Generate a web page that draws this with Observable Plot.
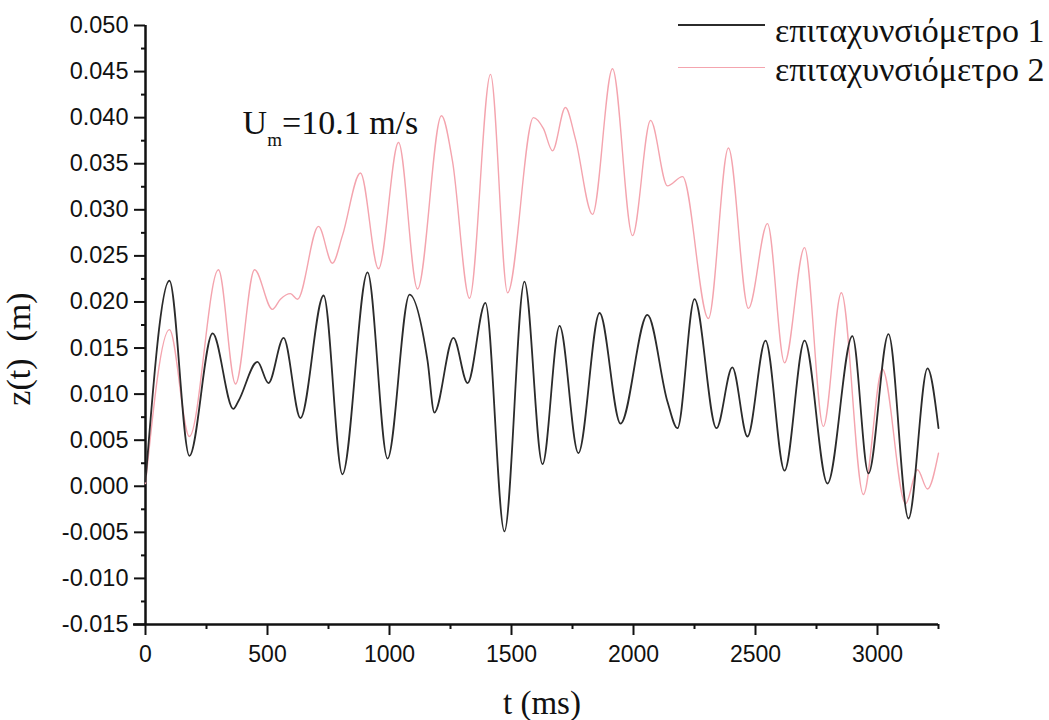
<!DOCTYPE html>
<html>
<head>
<meta charset="utf-8">
<script src="https://cdn.jsdelivr.net/npm/d3@7"></script>
<script src="https://cdn.jsdelivr.net/npm/@observablehq/plot@0.6"></script>
<style>
  html, body { margin: 0; padding: 0; background: #ffffff; }
  #wrap { position: relative; width: 1049px; height: 720px; overflow: hidden; }
  .legend { position: absolute; left: 0; top: 0; width: 1049px; height: 100px;
    font-family: "Liberation Serif", "Times New Roman", serif; font-size: 34px; line-height: 34px; color: #111; }
  .legend .label { position: absolute; left: 775px; white-space: nowrap; }
  .legend .swatch { position: absolute; left: 678px; width: 87px; height: 0; }
</style>
</head>
<body>
<div id="wrap"></div>
<script>
// Accelerometer 1: time (ms) and vertical displacement z(t) (m)
const t1 = [0, 98, 180, 275, 360, 380, 459, 504, 566, 635, 730, 807, 910, 992, 1082, 1156, 1184,
  1262, 1320, 1393, 1471, 1553, 1627, 1697, 1774, 1861, 1947, 2057, 2139, 2180,
  2250, 2340, 2405, 2467, 2541, 2619, 2701, 2795, 2897, 2963, 3045, 3127, 3205, 3250];
const z1 = [0.0005, 0.0223, 0.0033, 0.0166, 0.0084, 0.0092, 0.0135, 0.0112, 0.0161, 0.0074, 0.0207, 0.0013, 0.0232, 0.0030, 0.0208, 0.0136, 0.0080,
  0.0161, 0.0112, 0.0199, -0.0049, 0.0222, 0.0024, 0.0174, 0.0036, 0.0188, 0.0068, 0.0186, 0.0092, 0.0063,
  0.0203, 0.0063, 0.0129, 0.0054, 0.0158, 0.0017, 0.0158, 0.0003, 0.0163, 0.0014, 0.0165, -0.0035, 0.0128, 0.0063];

// Accelerometer 2
const t2 = [0, 98, 180, 299, 369, 447, 520, 553, 594, 623, 709, 766, 807, 881, 955, 1037, 1115,
  1213, 1258, 1328, 1414, 1484, 1590, 1631, 1668, 1721, 1762, 1832, 1914, 1996, 2070, 2139, 2201,
  2307, 2389, 2471, 2549, 2619, 2701, 2778, 2852, 2942, 3020, 3115, 3164, 3205, 3250];
const z2 = [0.0003, 0.0170, 0.0054, 0.0235, 0.0111, 0.0235, 0.0192, 0.0203, 0.0209, 0.0203, 0.0282, 0.0242, 0.0272, 0.0340, 0.0236, 0.0373, 0.0214,
  0.0402, 0.0353, 0.0204, 0.0447, 0.0210, 0.0400, 0.0388, 0.0364, 0.0411, 0.0377, 0.0295, 0.0453, 0.0272, 0.0397, 0.0326, 0.0336,
  0.0182, 0.0367, 0.0193, 0.0285, 0.0134, 0.0259, 0.0065, 0.0210, -0.0009, 0.0127, -0.0019, 0.0018, -0.0003, 0.0036];

// Axis ticks
const xTicks = [0, 500, 1000, 1500, 2000, 2500, 3000];
const xMinor = [250, 750, 1250, 1750, 2250, 2750, 3250];
const yTicks = [-0.015, -0.010, -0.005, 0.000, 0.005, 0.010, 0.015, 0.020, 0.025, 0.030, 0.035, 0.040, 0.045, 0.050];
const yMinor = [-0.0125, -0.0075, -0.0025, 0.0025, 0.0075, 0.0125, 0.0175, 0.0225, 0.0275, 0.0325, 0.0375, 0.0425, 0.0475];

// Series names and labels
const seriesNames = ["επιταχυνσιόμετρο 1", "επιταχυνσιόμετρο 2"];
const seriesColors = ["#2b2b2b", "#f4a4ae"];
const xLabel = ["t (ms)"];
const yLabel = "z(t)\u00a0 (m)";
const speedNote = [{t: 398, z: 0.0382}];

const s1 = t1.map((t, i) => ({t, z: z1[i]}));
const s2 = t2.map((t, i) => ({t, z: z2[i]}));

const sans = "'Liberation Sans', Arial, sans-serif";
const serif = "'Liberation Serif', 'Times New Roman', serif";

const chart = Plot.plot({
  width: 1049,
  height: 720,
  marginLeft: 145,
  marginRight: 111,
  marginTop: 25,
  marginBottom: 96,
  style: {background: "#ffffff", color: "#111", fontFamily: sans},
  x: {domain: [0, 3250], label: null},
  y: {domain: [-0.015, 0.050], label: null},
  marks: [
    // minor ticks
    Plot.axisY({ticks: yMinor, tickSize: 4, tickFormat: () => "", strokeWidth: 2, label: null}),
    Plot.axisX({ticks: xMinor, tickSize: 5, tickFormat: () => "", strokeWidth: 2, label: null}),
    // major ticks with labels
    Plot.axisY({ticks: yTicks, tickSize: 11, tickPadding: 6, tickFormat: v => v.toFixed(3),
      fontSize: 23.5, strokeWidth: 2, label: null}),
    Plot.axisX({ticks: xTicks, tickSize: 11, tickPadding: 10, tickFormat: v => String(v),
      fontSize: 23, strokeWidth: 2, label: null}),
    // axis lines
    Plot.ruleX([0], {stroke: "#111", strokeWidth: 2.5}),
    Plot.ruleY([-0.015], {stroke: "#111", strokeWidth: 2.5, insetLeft: -12}),
    // signals
    Plot.line(s2, {x: "t", y: "z", stroke: seriesColors[1], strokeWidth: 1.4, curve: "monotone-x"}),
    Plot.line(s1, {x: "t", y: "z", stroke: seriesColors[0], strokeWidth: 1.8, curve: "monotone-x"}),
    // x-axis title
    Plot.text(xLabel, {frameAnchor: "bottom", lineAnchor: "bottom", dy: 89, fontSize: 33,
      fontFamily: serif, fill: "#111"}),
    // flow speed note (subscript added below)
    Plot.text(speedNote, {x: "t", y: "z", text: () => "U", textAnchor: "start", lineAnchor: "bottom",
      fontSize: 34, fontFamily: serif, fill: "#111"})
  ]
});

const svg = d3.select(chart);

// subscript for the speed note
const note = svg.selectAll("text").filter(function () { return this.textContent === "U"; });
note.text("U");
note.append("tspan").attr("font-size", 19).attr("dy", 12).text("m");
note.append("tspan").attr("dy", -12).text("=10.1 m/s");

// rotated y-axis title
svg.append("text")
  .attr("transform", "translate(30,349) rotate(-90)")
  .attr("text-anchor", "middle")
  .attr("font-family", serif)
  .attr("font-size", 34)
  .attr("fill", "#111")
  .text(yLabel);

const wrap = document.getElementById("wrap");
wrap.appendChild(chart);

// legend
const legend = d3.select(wrap).append("div").attr("class", "legend");
const lineY = [25, 68];
const baselineY = [42, 81];
seriesNames.forEach((name, i) => {
  legend.append("div").attr("class", "swatch")
    .style("top", (lineY[i] - 1) + "px")
    .style("border-top", `${i === 0 ? 2 : 1.5}px solid ${seriesColors[i]}`);
  legend.append("div").attr("class", "label")
    .style("top", (baselineY[i] - 28.5) + "px")
    .text(name);
});
</script>
</body>
</html>
